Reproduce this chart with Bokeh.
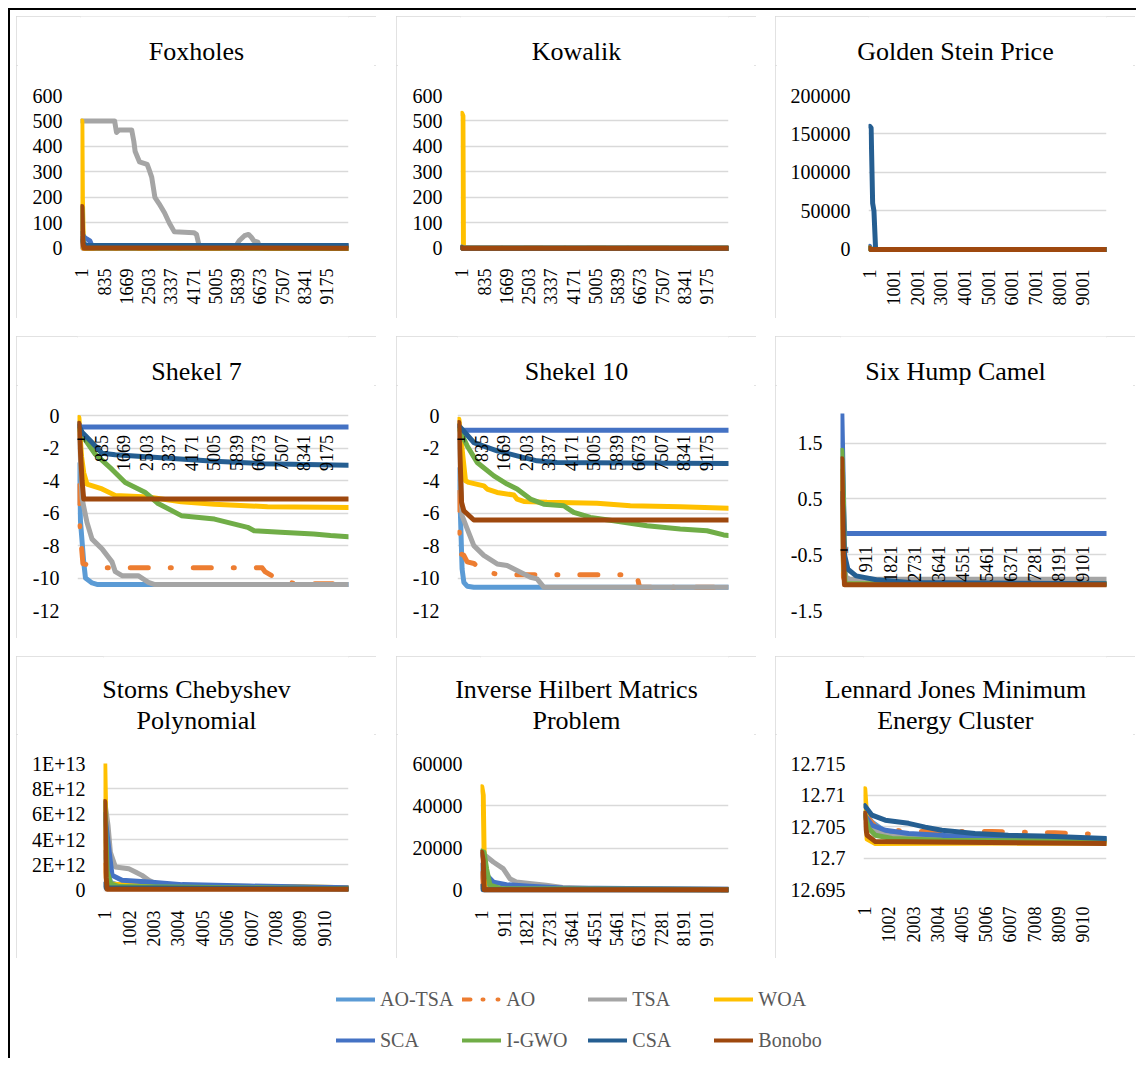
import math
from bokeh.plotting import figure
from bokeh.models import Range1d, FixedTicker, Title, Legend, LegendItem, Spacer
from bokeh.layouts import row, column
from bokeh.embed import file_html
from bokeh.resources import INLINE

SERIES = ["AO-TSA", "AO", "TSA", "WOA", "SCA", "I-GWO", "CSA", "Bonobo"]
COLORS = ["#5B9BD5", "#ED7D31", "#A5A5A5", "#FFC000", "#4472C4", "#70AD47", "#255E91", "#9E480E"]
DASHES = ["solid", "18 22 1 22", "solid", "solid", "solid", "solid", "solid", "solid"]
LEGEND_DASHES = ["solid", "8 12 1 14 1 12", "solid", "solid", "solid", "solid", "solid", "solid"]

# x tick labels (iterations)
X_834 = [1, 835, 1669, 2503, 3337, 4171, 5005, 5839, 6673, 7507, 8341, 9175]
X_1000 = [1, 1001, 2001, 3001, 4001, 5001, 6001, 7001, 8001, 9001]
X_910 = [1, 911, 1821, 2731, 3641, 4551, 5461, 6371, 7281, 8191, 9101]
X_1001 = [1, 1002, 2003, 3004, 4005, 5006, 6007, 7008, 8009, 9010]

# y ticks
FOX_YT = [0, 100, 200, 300, 400, 500, 600]
FOX_YL = ["0", "100", "200", "300", "400", "500", "600"]
GSP_YT = [0, 50000, 100000, 150000, 200000]
GSP_YL = ["0", "50000", "100000", "150000", "200000"]
SHK_YT = [0, -2, -4, -6, -8, -10, -12]
SHK_YL = ["0", "-2", "-4", "-6", "-8", "-10", "-12"]
SHC_YT = [1.5, 0.5, -0.5, -1.5]
SHC_YL = ["1.5", "0.5", "-0.5", "-1.5"]
STC_YT = [0, 2e12, 4e12, 6e12, 8e12, 1e13]
STC_YL = ["0", "2E+12", "4E+12", "6E+12", "8E+12", "1E+13"]
IHM_YT = [0, 20000, 40000, 60000]
IHM_YL = ["0", "20000", "40000", "60000"]
LJ_YT = [12.695, 12.7, 12.705, 12.71, 12.715]
LJ_YL = ["12.695", "12.7", "12.705", "12.71", "12.715"]

# ---- Foxholes
FOX_AOTSA = ([1, 30, 10000], [20, 1, 1])
FOX_AO = ([1, 40, 10000], [30, 1, 1])
FOX_TSA = ([1, 1230, 1300, 1400, 1870, 1950, 2000, 2160, 2450, 2520, 2620, 2740, 2900, 3100, 3280, 3470, 4200, 4300, 4400, 5780, 5900, 6100, 6250, 6350, 6450, 6600, 6650, 10000],
           [500, 500, 455, 465, 465, 420, 380, 340, 330, 310, 280, 200, 175, 140, 100, 65, 62, 55, 10, 10, 30, 50, 55, 45, 30, 25, 10, 10])
FOX_WOA = ([1, 20, 60, 10000], [500, 200, 2, 1])
FOX_SCA = ([1, 80, 150, 300, 380, 10000], [60, 45, 40, 30, 10, 10])
FOX_IGWO = ([1, 40, 120, 10000], [160, 30, 3, 1])
FOX_CSA = ([1, 60, 200, 10000], [40, 18, 12, 12])
FOX_BON = ([1, 40, 80, 10000], [165, 20, 2, 1])

# ---- Kowalik
KOW_AOTSA = ([1, 30, 10000], [3, 0.5, 0.3])
KOW_AO = ([1, 30, 10000], [4, 0.5, 0.3])
KOW_TSA = ([1, 60, 10000], [6, 1, 0.3])
KOW_WOA = ([1, 40, 60, 10000], [530, 520, 1, 0.3])
KOW_SCA = ([1, 50, 10000], [5, 1, 0.3])
KOW_IGWO = ([1, 40, 10000], [4, 0.5, 0.3])
KOW_CSA = ([1, 40, 10000], [3, 0.5, 0.3])
KOW_BON = ([1, 40, 10000], [2, 0.3, 0.3])

# ---- Golden Stein Price
GSP_AOTSA = ([1, 40, 10000], [800, 3, 3])
GSP_AO = ([1, 40, 10000], [1200, 3, 3])
GSP_TSA = ([1, 60, 10000], [2500, 5, 3])
GSP_WOA = ([1, 40, 10000], [3000, 3, 3])
GSP_SCA = ([1, 50, 10000], [4000, 10, 3])
GSP_IGWO = ([1, 40, 10000], [2000, 3, 3])
GSP_CSA = ([1, 60, 125, 180, 250, 10000], [160000, 158000, 60000, 50000, 5, 3])
GSP_BON = ([1, 40, 10000], [1500, 3, 3])

# ---- Shekel 7
SHK7_AOTSA = ([1, 60, 180, 245, 490, 700, 10000], [-3.0, -6.5, -9.0, -10.0, -10.3, -10.4, -10.4])
SHK7_AO = ([1, 30, 150, 700, 6800, 6900, 7300, 8000, 10000], [-4.3, -6.7, -9.1, -9.37, -9.37, -9.6, -9.99, -10.35, -10.35])
SHK7_TSA = ([1, 120, 300, 490, 860, 1230, 1350, 1600, 2200, 2580, 2820, 10000],
            [-0.5, -5.1, -6.56, -7.6, -8.2, -9.0, -9.6, -9.85, -9.85, -10.26, -10.4, -10.4])
SHK7_WOA = ([1, 100, 180, 300, 860, 1350, 2580, 3800, 5030, 7000, 10000],
            [-0.1, -2.5, -3.5, -4.2, -4.5, -4.9, -5.0, -5.3, -5.45, -5.6, -5.65])
SHK7_SCA = ([1, 60, 10000], [-0.5, -0.68, -0.68])
SHK7_IGWO = ([1, 120, 610, 1230, 1720, 2450, 2940, 3800, 5030, 6260, 6500, 7480, 8710, 9330, 10000],
             [-0.8, -1.2, -2.36, -3.3, -4.1, -4.7, -5.4, -6.15, -6.36, -6.87, -7.08, -7.18, -7.28, -7.38, -7.45])
SHK7_CSA = ([1, 120, 490, 860, 1350, 3190, 5030, 6870, 10000], [-0.6, -1.0, -1.64, -2.3, -2.4, -2.6, -2.8, -2.95, -3.04])
SHK7_BON = ([1, 120, 180, 10000], [-0.45, -4.0, -5.13, -5.13])

# ---- Shekel 10
SHK10_AOTSA = ([1, 60, 120, 185, 310, 555, 10000], [-3.3, -6.15, -9.44, -10.26, -10.5, -10.56, -10.56])
SHK10_AO = ([1, 20, 60, 185, 310, 560, 930, 1680, 6600, 6700, 10000],
            [-4.7, -7.3, -8.5, -8.6, -9.0, -9.1, -9.64, -9.8, -9.8, -10.56, -10.56])
SHK10_TSA = ([1, 120, 310, 555, 925, 1420, 1790, 2285, 2655, 2900, 3150, 10000],
             [-1.0, -6.15, -6.97, -8.0, -8.6, -9.13, -9.23, -9.64, -9.95, -10.05, -10.56, -10.56])
SHK10_WOA = ([1, 247, 370, 926, 1050, 1420, 2040, 2160, 2410, 3270, 5125, 6360, 8210, 10000],
             [-0.2, -4.0, -4.1, -4.31, -4.51, -4.72, -4.88, -5.13, -5.27, -5.33, -5.39, -5.54, -5.6, -5.7])
SHK10_SCA = ([1, 50, 10000], [-0.6, -0.88, -0.88])
SHK10_IGWO = ([1, 60, 310, 680, 1300, 1790, 2160, 2655, 3150, 3890, 4260, 4880, 5740, 6980, 8210, 9200, 9820, 10000],
              [-0.8, -1.0, -1.85, -2.87, -3.7, -4.2, -4.5, -5.13, -5.44, -5.54, -5.95, -6.26, -6.46, -6.77, -6.97, -7.08, -7.34, -7.38])
SHK10_CSA = ([1, 555, 1420, 2160, 2900, 3640, 6360, 10000], [-0.6, -1.64, -2.15, -2.46, -2.77, -2.87, -2.91, -2.93])
SHK10_BON = ([1, 100, 185, 555, 10000], [-0.4, -5.33, -5.85, -6.42, -6.42])

# ---- Six Hump Camel
SHC_AOTSA = ([1, 60, 150, 10000], [0.5, -0.8, -1.03, -1.03])
SHC_AO = ([1, 60, 150, 10000], [0.3, -0.9, -1.03, -1.03])
SHC_TSA = ([1, 50, 150, 300, 10000], [0.8, -0.5, -0.9, -0.94, -0.94])
SHC_WOA = ([1, 50, 120, 10000], [1.0, -0.6, -1.03, -1.03])
SHC_SCA = ([1, 75, 110, 10000], [2.03, 0.3, -0.12, -0.12])
SHC_IGWO = ([1, 60, 120, 10000], [1.37, 0.5, -1.02, -1.02])
SHC_CSA = ([1, 40, 100, 230, 540, 1300, 2550, 10000], [0.6, 0.32, -0.5, -0.76, -0.88, -0.95, -1.0, -1.02])
SHC_BON = ([1, 60, 100, 10000], [1.22, -0.5, -1.04, -1.04])

# ---- Storns Chebyshev Polynomial
STC_AOTSA = ([1, 100, 250, 500, 1500, 10000], [3.0e12, 1.5e12, 0.6e12, 0.45e12, 0.3e12, 0.15e12])
STC_AO = ([1, 80, 200, 10000], [2.0e12, 0.6e12, 0.3e12, 0.15e12])
STC_TSA = ([1, 137, 233, 440, 990, 1260, 1530, 1810, 2080, 2490, 4550, 10000],
           [7.0e12, 5.1e12, 3.0e12, 1.84e12, 1.7e12, 1.45e12, 1.18e12, 0.79e12, 0.53e12, 0.4e12, 0.32e12, 0.18e12])
STC_WOA = ([1, 30, 60, 120, 2000, 5000, 8000, 10000], [1.0e13, 7.0e12, 1.0e12, 0.5e12, 0.35e12, 0.32e12, 0.28e12, 0.2e12])
STC_SCA = ([1, 165, 300, 710, 1810, 3180, 5920, 10000], [6.0e12, 3.3e12, 1.18e12, 0.79e12, 0.66e12, 0.45e12, 0.34e12, 0.21e12])
STC_IGWO = ([1, 100, 250, 600, 10000], [6.9e12, 1.5e12, 0.5e12, 0.3e12, 0.12e12])
STC_CSA = ([1, 50, 10000], [0.5e12, 0.2e12, 0.1e12])
STC_BON = ([1, 60, 100, 10000], [7.0e12, 1.0e12, 0.08e12, 0.08e12])

# ---- Inverse Hilbert Matrics Problem
IHM_AOTSA = ([1, 40, 150, 400, 1000, 10000], [12000, 6000, 2500, 1200, 600, 300])
IHM_AO = ([1, 60, 200, 10000], [8000, 2000, 700, 300])
IHM_TSA = ([1, 40, 470, 870, 1140, 1400, 1940, 2610, 3280, 4620, 10000],
           [18000, 17400, 13400, 10300, 5500, 3900, 3200, 2400, 1300, 800, 500])
IHM_WOA = ([1, 60, 120, 10000], [49000, 45000, 500, 300])
IHM_SCA = ([1, 40, 200, 470, 1000, 1940, 3280, 10000], [17000, 16600, 7100, 3900, 2700, 1900, 1100, 500])
IHM_IGWO = ([1, 95, 200, 335, 800, 10000], [18500, 18000, 10000, 2400, 800, 400])
IHM_CSA = ([1, 50, 10000], [2000, 300, 200])
IHM_BON = ([1, 60, 100, 10000], [18000, 14000, 300, 300])

# ---- Lennard Jones Minimum Energy Cluster
LJ_AOTSA = ([1, 300, 850, 1815, 3190, 5940, 10000], [12.7072, 12.7057, 12.7042, 12.7036, 12.7033, 12.7032, 12.7030])
LJ_AO = ([1, 440, 1130, 2090, 5250, 7860, 10000], [12.7070, 12.7050, 12.7044, 12.7042, 12.7042, 12.7040, 12.7037])
LJ_TSA = ([1, 300, 1000, 10000], [12.7065, 12.7045, 12.7035, 12.7030])
LJ_WOA = ([1, 55, 100, 440, 10000], [12.7110, 12.7080, 12.7030, 12.7023, 12.7024])
LJ_SCA = ([1, 300, 850, 1815, 4560, 10000], [12.7068, 12.7052, 12.7044, 12.7039, 12.7033, 12.7030])
LJ_IGWO = ([1, 165, 440, 1130, 3190, 10000], [12.7068, 12.7047, 12.7036, 12.7031, 12.7028, 12.7027])
LJ_CSA = ([1, 300, 850, 1815, 2500, 3190, 4560, 5940, 7310, 10000],
          [12.7083, 12.7068, 12.7060, 12.7055, 12.7049, 12.7044, 12.7039, 12.7036, 12.7035, 12.7031])
LJ_BON = ([1, 55, 100, 440, 10000], [12.7071, 12.7045, 12.7036, 12.7026, 12.7023])

SERIF = "Liberation Serif"
PW, PH = 360, 302
LW = 5
TITLE_PX = 26

# advance widths of Liberation Serif (Times metrics, 1/1000 em) used to centre titles on the panel
_CW = {" ": 250, "F": 556, "K": 722, "G": 722, "S": 556, "P": 556, "C": 667, "H": 722, "I": 333,
       "L": 611, "J": 389, "M": 889, "E": 611,
       "a": 444, "b": 500, "c": 444, "d": 500, "e": 444, "g": 500, "h": 500, "i": 278, "k": 500,
       "l": 278, "m": 778, "n": 500, "o": 500, "p": 500, "r": 333, "s": 389, "t": 278, "u": 500,
       "v": 500, "w": 722, "x": 500, "y": 500}


def text_width(s, px):
    return sum(_CW.get(ch, 500) for ch in s) * px / 1000.0


def panel(lines, x_ticks, y_ticks, y_labels, y_lo, y_hi, frame, series, axis_at):
    fl, fr, ft, fb = frame
    T = 49 if len(lines) == 1 else 78
    # title strip: titles sit in its bottom panel; its frame is aligned with the plot frame below
    tf = figure(width=PW, height=T, output_backend="svg", toolbar_location=None,
                x_axis_type=None, y_axis_type=None, x_range=Range1d(0, 1), y_range=Range1d(0, 1),
                min_border=0, outline_line_color=None,
                background_fill_color="white", border_fill_color="white")
    for t in lines:
        off = PW / 2 - fl - text_width(t, TITLE_PX) / 2
        tf.add_layout(Title(text=t, align="left", offset=off, text_font=SERIF,
                            text_font_size=f"{TITLE_PX}px", text_font_style="normal",
                            text_color="black", standoff=0), "below")

    p = figure(width=PW, height=PH - T, output_backend="svg", toolbar_location=None,
               x_range=Range1d(-50, 10000), y_range=Range1d(y_lo, y_hi),
               min_border_left=fl, min_border_right=PW - fr,
               min_border_top=ft - T, min_border_bottom=PH - fb,
               background_fill_color="white", border_fill_color="white",
               outline_line_color=None)
    for (xs, ys), color, dash in zip(series, COLORS, DASHES):
        p.line(xs, ys, line_color=color, line_width=LW, line_dash=dash,
               line_join="round", line_cap="round")
    p.xgrid.visible = False
    p.ygrid.ticker = FixedTicker(ticks=y_ticks)
    p.ygrid.grid_line_color = "#d9d9d9"
    p.ygrid.grid_line_width = 1.5

    xa = p.xaxis[0]
    xa.ticker = FixedTicker(ticks=x_ticks)
    xa.major_label_overrides = {t: str(t) for t in x_ticks}
    xa.major_label_orientation = math.pi / 2
    xa.axis_line_color = None
    xa.major_tick_line_color = None
    xa.minor_tick_line_color = None
    xa.major_label_text_font = SERIF
    xa.major_label_text_font_size = "18px"
    xa.major_label_text_color = "black"
    if axis_at is None:
        xa.major_label_standoff = 11
    else:
        xa.fixed_location = axis_at
        xa.major_label_standoff = 13

    ya = p.yaxis[0]
    ya.ticker = FixedTicker(ticks=y_ticks)
    ya.major_label_overrides = {t: l for t, l in zip(y_ticks, y_labels)}
    ya.axis_line_color = None
    ya.major_tick_line_color = None
    ya.minor_tick_line_color = None
    ya.major_label_standoff = 12
    ya.major_label_text_font = SERIF
    ya.major_label_text_font_size = "20px"
    ya.major_label_text_color = "black"

    return column(tf, p, styles={"outline": "2px solid #d9d9d9", "outline-offset": "-2px"})


p1 = panel(["Foxholes"], X_834, FOX_YT, FOX_YL, -12, 600, (64, 332, 79, 235),
           [FOX_AOTSA, FOX_AO, FOX_TSA, FOX_WOA, FOX_SCA, FOX_IGWO, FOX_CSA, FOX_BON], None)
p2 = panel(["Kowalik"], X_834, FOX_YT, FOX_YL, -12, 600, (64, 332, 79, 235),
           [KOW_AOTSA, KOW_AO, KOW_TSA, KOW_WOA, KOW_SCA, KOW_IGWO, KOW_CSA, KOW_BON], None)
p3 = panel(["Golden Stein Price"], X_1000, GSP_YT, GSP_YL, -4000, 200000, (93, 331, 79, 236),
           [GSP_AOTSA, GSP_AO, GSP_TSA, GSP_WOA, GSP_SCA, GSP_IGWO, GSP_CSA, GSP_BON], None)
p4 = panel(["Shekel 7"], X_834, SHK_YT, SHK_YL, -12, 0.15, (61, 332, 77, 274),
           [SHK7_AOTSA, SHK7_AO, SHK7_TSA, SHK7_WOA, SHK7_SCA, SHK7_IGWO, SHK7_CSA, SHK7_BON], 0)
p5 = panel(["Shekel 10"], X_834, SHK_YT, SHK_YL, -12, 0.15, (61, 332, 77, 274),
           [SHK10_AOTSA, SHK10_AO, SHK10_TSA, SHK10_WOA, SHK10_SCA, SHK10_IGWO, SHK10_CSA, SHK10_BON], 0)
p6 = panel(["Six Hump Camel"], X_910, SHC_YT, SHC_YL, -1.5, 2.03, (65, 331, 77, 274),
           [SHC_AOTSA, SHC_AO, SHC_TSA, SHC_WOA, SHC_SCA, SHC_IGWO, SHC_CSA, SHC_BON], 0)
p7 = panel(["Storns Chebyshev", "Polynomial"], X_1001, STC_YT, STC_YL, -0.25e12, 1e13, (87, 332, 107, 237),
           [STC_AOTSA, STC_AO, STC_TSA, STC_WOA, STC_SCA, STC_IGWO, STC_CSA, STC_BON], None)
p8 = panel(["Inverse Hilbert Matrics", "Problem"], X_910, IHM_YT, IHM_YL, -1500, 60000, (84, 332, 107, 237),
           [IHM_AOTSA, IHM_AO, IHM_TSA, IHM_WOA, IHM_SCA, IHM_IGWO, IHM_CSA, IHM_BON], None)
p9 = panel(["Lennard Jones Minimum", "Energy Cluster"], X_1001, LJ_YT, LJ_YL, 12.695, 12.715, (88, 331, 107, 233),
           [LJ_AOTSA, LJ_AO, LJ_TSA, LJ_WOA, LJ_SCA, LJ_IGWO, LJ_CSA, LJ_BON], None)

# legend (renderers hold the Foxholes series but lie outside this strip's ranges)
leg = figure(width=1126, height=100, output_backend="svg", toolbar_location=None,
             x_range=Range1d(-3, -2), y_range=Range1d(-3, -2), x_axis_type=None, y_axis_type=None,
             min_border=0, outline_line_color=None, background_fill_color="white",
             border_fill_color="white")
items = []
for (xs, ys), name, color, dash in zip([FOX_AOTSA, FOX_AO, FOX_TSA, FOX_WOA, FOX_SCA, FOX_IGWO, FOX_CSA, FOX_BON],
                                      SERIES, COLORS, LEGEND_DASHES):
    r = leg.line(xs, ys, line_color=color, line_width=4, line_dash=dash, line_cap="round")
    items.append(LegendItem(label=name, renderers=[r]))
legend = Legend(items=items, orientation="horizontal", ncols=4, location=(326, 2),
                glyph_width=39, glyph_height=32, label_height=32, label_width=73,
                label_standoff=5, spacing=9, padding=0, margin=0,
                border_line_color=None, background_fill_alpha=0,
                label_text_font=SERIF, label_text_font_size="20px", label_text_color="#595959")
leg.add_layout(legend)

BLACK = {"background-color": "black"}
r1 = row(Spacer(width=6, height=PH), p1, Spacer(width=20, height=PH), p2, Spacer(width=19, height=PH), p3)
r2 = row(Spacer(width=6, height=PH), p4, Spacer(width=20, height=PH), p5, Spacer(width=19, height=PH), p6)
r3 = row(Spacer(width=6, height=PH), p7, Spacer(width=20, height=PH), p8, Spacer(width=19, height=PH), p9)
content = column(Spacer(width=1126, height=6), r1, Spacer(width=1126, height=18), r2,
                 Spacer(width=1126, height=18), r3, leg)
framed = column(Spacer(width=1128, height=2, styles=BLACK),
                row(Spacer(width=2, height=1048, styles=BLACK), content))
layout = column(Spacer(width=1136, height=8), row(Spacer(width=8, height=1050), framed))

open("out.html", "w").write(file_html(layout, INLINE))
